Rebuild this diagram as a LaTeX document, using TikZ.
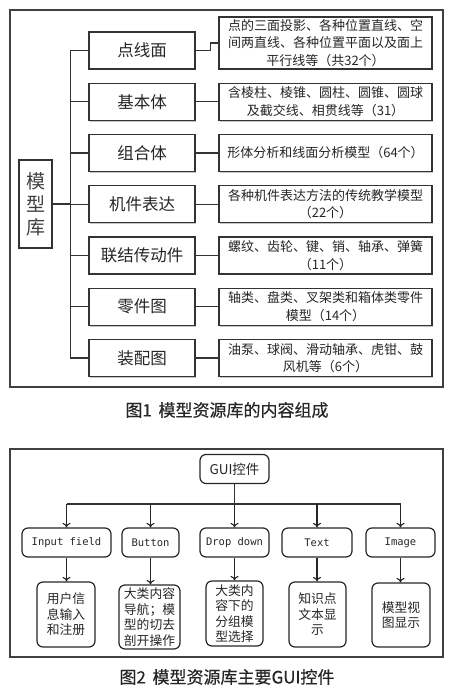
\documentclass[tikz,border=0pt]{standalone}
\usepackage{fontspec}
\setmainfont{Noto Sans CJK SC}
\newfontfamily\monofont{DejaVu Sans Mono}
\newfontfamily\captfont[FakeBold=0.4]{Noto Sans CJK SC}
\usetikzlibrary{shadows,arrows.meta}

\begin{document}
\begin{tikzpicture}[x=1pt, y=-1pt,
    root/.style={draw=black!80, line width=1.3pt, fill=white, text=black!75, minimum width=33pt, minimum height=88pt, inner sep=0pt, align=center, font=\fontsize{19}{23}\selectfont, drop shadow={shadow xshift=1.3pt, shadow yshift=-1.3pt, opacity=0.45}},
    cat/.style={draw=black!80, line width=1.3pt, fill=white, text=black!85, minimum width=106pt, minimum height=37pt, inner sep=0pt, font=\fontsize{16.5}{19}\selectfont, drop shadow={shadow xshift=1.3pt, shadow yshift=-1.3pt, opacity=0.45}},
    desc/.style={draw=black!80, line width=1.3pt, fill=white, text=black!85, minimum width=213pt, minimum height=37pt, inner sep=0pt, align=center, font=\fontsize{13}{17.5}\selectfont, drop shadow={shadow xshift=1.3pt, shadow yshift=-1.3pt, opacity=0.45}},
    link/.style={draw=black!80, line width=1.1pt},
    gui/.style={draw=black!85, line width=1.2pt, rounded corners=6pt, minimum height=29pt, inner sep=0pt, text=black!85, font=\monofont\fontsize{10.5}{12}\selectfont},
    leaf/.style={draw=black!85, line width=1.2pt, rounded corners=6pt, minimum height=65pt, inner sep=0pt, align=center, text=black!85, font=\fontsize{12.8}{15.5}\selectfont},
    capt/.style={font=\captfont\fontsize{17}{20}\selectfont, text=black!85},
    arr/.style={-{To[length=4.5pt, width=8pt]}, draw=black!85, line width=1.1pt}
  ]
  \useasboundingbox (0,0) rectangle (454,696);

  % Figure 1 frame
  \draw[draw=black!75, line width=1.2pt] (10,10) rectangle (443,387);

  % Root
  \node[root] (root) at (35.5,204) {模\\型\\库};

  % Categories
  \node[cat] (cat1) at (142,50.5) {点线面};
  \node[cat] (cat2) at (142,101.75) {基本体};
  \node[cat] (cat3) at (142,153) {组合体};
  \node[cat] (cat4) at (142,204.25) {机件表达};
  \node[cat] (cat5) at (142,255.5) {联结传动件};
  \node[cat] (cat6) at (142,306.75) {零件图};
  \node[cat] (cat7) at (142,358) {装配图};

  % Descriptions
  \node[desc, minimum height=52pt] (desc1) at (325.5,43) {点的三面投影、各种位置直线、空\\间两直线、各种位置平面以及面上\\平行线等（共32个）};
  \node[desc] (desc2) at (325.5,101.75) {含棱柱、棱锥、圆柱、圆锥、圆球\\及截交线、相贯线等（31）};
  \node[desc] (desc3) at (325.5,153) {形体分析和线面分析模型（64个）};
  \node[desc] (desc4) at (325.5,204.25) {各种机件表达方法的传统教学模型\\（22个）};
  \node[desc] (desc5) at (325.5,255.5) {螺纹、齿轮、键、销、轴承、弹簧\\（11个）};
  \node[desc] (desc6) at (325.5,306.75) {轴类、盘类、叉架类和箱体类零件\\模型（14个）};
  \node[desc] (desc7) at (325.5,358) {油泵、球阀、滑动轴承、虎钳、鼓\\风机等（6个）};

  % Tree lines
  \draw[link] (cat1.west) -- ++(-18,0) coordinate (top) -- (top |- cat7.west) -- (cat7.west);
  \foreach \i in {2,...,6}
    \draw[link] (cat\i.west) -- (cat\i.west -| top);
  \draw[link] (root.east) -- (root.east -| top);
  \draw[link] (cat1.east) -- ++(15,0) |- (desc1.west);
  \foreach \i in {2,...,7}
    \draw[link] (cat\i.east) -- (desc\i.west);

  \node[capt] (cap1) at (227,410) {图1\, 模型资源库的内容组成};

  % Figure 2 frame
  \draw[draw=black!75, line width=1.2pt] (10,449) rectangle (443,657);

  % GUI root
  \node[gui, minimum width=69pt, font=\fontsize{13.5}{15}\selectfont] (gui) at (234.5,469) {GUI控件};

  % Controls
  \node[gui, minimum width=89pt] (ctrl1) at (66.5,542.5) {Input field};
  \node[gui, minimum width=57pt] (ctrl2) at (150.5,542.5) {Button};
  \node[gui, minimum width=69pt] (ctrl3) at (234.5,542.5) {Drop down};
  \node[gui, minimum width=70pt] (ctrl4) at (317,542.5) {Text};
  \node[gui, minimum width=69pt] (ctrl5) at (400.5,542.5) {Image};

  % Functions
  \node[leaf, minimum width=58pt] (leaf1) at (66,614.5) {用户信\\息输入\\和注册};
  \node[leaf, minimum width=61pt, minimum height=64pt] (leaf2) at (149.5,617) {大类内容\\导航；模\\型的切去\\剖开操作};
  \node[leaf, minimum width=57pt] (leaf3) at (234.5,613.5) {大类内\\容下的\\分组模\\型选择};
  \node[leaf, minimum width=57pt] (leaf4) at (317.5,614.5) {知识点\\文本显\\示};
  \node[leaf, minimum width=58pt, minimum height=64pt] (leaf5) at (401,615) {模型视\\图显示};

  % Arrows
  \coordinate (bus) at (234.5,504);
  \draw[link] (gui) -- (bus);
  \draw[link] (bus -| ctrl1.north) -- (bus -| ctrl5.north);
  \foreach \i in {1,...,5} {
    \draw[arr] (bus -| ctrl\i.north) -- (ctrl\i.north);
    \draw[arr] (ctrl\i.south) -- (ctrl\i.south |- leaf\i.north);
  }

  \node[capt] (cap2) at (227,677) {图2\, 模型资源库主要GUI控件};
\end{tikzpicture}
\end{document}
